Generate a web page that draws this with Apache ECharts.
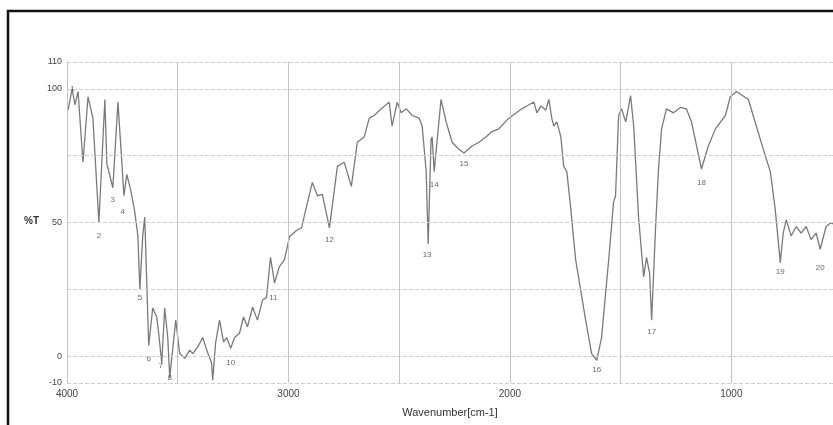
<!DOCTYPE html>
<html><head><meta charset="utf-8">
<script src="https://cdn.jsdelivr.net/npm/echarts@6/dist/echarts.min.js"></script>
<style>html,body{margin:0;padding:0;background:#fff}#c{width:833px;height:425px}</style>
</head><body><div id="c"></div>
<script>
// Spectrum data
const wavenumbers = [3995,3977,3964,3950,3928,3905,3883,3856,3829,3820,3793,3770,3752,3743,3730,3712,3694,3680,3671,3658,3649,3631,3613,3595,3586,3572,3559,3545,3536,3509,3491,3468,3446,3432,3410,3387,3369,3347,3342,3329,3311,3293,3279,3261,3243,3221,3203,3185,3162,3140,3117,3099,3081,3063,3041,3018,2995,2964,2941,2914,2892,2869,2847,2815,2779,2748,2716,2689,2658,2635,2613,2581,2545,2532,2509,2491,2468,2441,2410,2396,2378,2369,2356,2351,2342,2311,2288,2261,2230,2207,2171,2140,2108,2081,2050,2005,1946,1914,1892,1878,1860,1838,1824,1811,1802,1788,1770,1757,1743,1725,1703,1658,1631,1608,1586,1554,1532,1523,1509,1496,1477,1455,1441,1419,1396,1383,1369,1360,1342,1329,1315,1293,1261,1230,1203,1180,1135,1104,1072,1027,1005,977,923,887,847,824,802,779,766,752,730,707,685,662,640,617,599,572,550,541];
const transmittance = [92,100,94,99,72.5,97,89,50,96,72,63,95,72,60,68,62,54,45,25,45,52,4,18,14.7,8.6,-2.6,18,7,-8,13.5,1,-0.8,2.3,1,3.4,7,2.3,-2.6,-9,5,13.5,5.3,7,3,7,8.6,14.7,11,18.4,13.5,21,22,37,27.4,33.5,36,44.7,47,48,57.5,65,60,60.5,48,71,72.5,63.5,80,82,89,90,92.5,95,86,95,91,92.5,90,89,86,69,42,81,82,69,96,87.6,80,77.4,76,78.6,80,82,84,85,89,92.5,94,95,91,93.6,92,96,89,86,87.6,82,71,69,55,36,13.5,1,-1.5,7,36,57.5,60,90,92.5,87.6,97.4,86,52,29.7,37,31,13.5,48.5,70,85,92.5,91,93,92.5,87.6,70,78.6,85,90,97,99,96,86,75,69,55,35,46,51,45,48.5,46,48.5,43.6,46,40,48.5,50,49.5];

// Peak labels
const peakNumbers = ['1','2','3','4','5','6','7','8','9','10','11','12','13','14','15','16','17','18','19','20'];
const peakWavenumbers = [3975,3856,3793,3748,3671,3631,3577,3536,3342,3261,3068,2815,2374,2342,2207,1608,1360,1135,779,599];
const peakLabelValues = [100,45,58.6,54,22,-1,-3.4,-8,-13.5,-2.3,22,43.6,38,64,72,-5,9,65,31.6,33];

// Axis ticks and grid lines
const yTickLabels = [-10,0,50,100,110];
const yGridValues = [-10,0,25,50,75,100,110];
const xTickLabels = [4000,3000,2000,1000];
const xGridValues = [4000,3500,3000,2500,2000,1500,1000];

const chart = echarts.init(document.getElementById('c'), null, {renderer:'canvas'});
const lineData = wavenumbers.map((w,i)=>[w, transmittance[i]]);
const peakData = peakWavenumbers.map((w,i)=>[w, peakLabelValues[i], peakNumbers[i]]);

chart.setOption({
  animation:false,
  backgroundColor:'#ffffff',
  textStyle:{fontFamily:'Liberation Sans, Arial, sans-serif'},
  graphic:[
    {type:'polyline', silent:true, shape:{points:[[8,425],[8,11],[833,11]]}, style:{stroke:'#111',lineWidth:2.5,fill:null}},
    {type:'text', left:24, top:216, silent:true, style:{text:'%T', fontSize:10, fontWeight:'bold', fill:'#333', fontFamily:'Liberation Sans, Arial, sans-serif'}}
  ],
  grid:{left:67, top:62, right:0, bottom:42, containLabel:false},
  xAxis:{
    type:'value', min:541, max:4000, inverse:true,
    name:'Wavenumber[cm-1]', nameLocation:'middle', nameGap:24,
    nameTextStyle:{fontSize:11, color:'#333'},
    axisLine:{show:false}, axisTick:{show:false},
    axisLabel:{fontSize:10, color:'#444', margin:6, customValues:xTickLabels, formatter:v=>String(v)},
    splitLine:{show:false}
  },
  yAxis:{
    type:'value', min:-10, max:110,
    axisLine:{show:true, lineStyle:{color:'#b0b0b0'}}, axisTick:{show:false},
    axisLabel:{fontSize:9, color:'#444', margin:5, customValues:yTickLabels, formatter:v=>String(v)},
    splitLine:{show:false}
  },
  series:[
    {
      type:'line', data:lineData, symbol:'none', smooth:false,
      lineStyle:{color:'#7a7a7a', width:1.3}, z:3,
      markLine:{silent:true, symbol:'none', label:{show:false},
        data: yGridValues.map(v=>({yAxis:v, lineStyle:{color:'#cfcfcf', type:'dashed', width:1}}))
          .concat(xGridValues.map(v=>({xAxis:v, lineStyle:{color:'#c4c4c4', type:'solid', width:1}})))}
    },
    {
      type:'scatter', data:peakData, symbolSize:0, z:4, silent:true,
      label:{show:true, position:'inside', fontSize:8, color:'#444', formatter:p=>p.data[2]}
    }
  ]
});
</script></body></html>
